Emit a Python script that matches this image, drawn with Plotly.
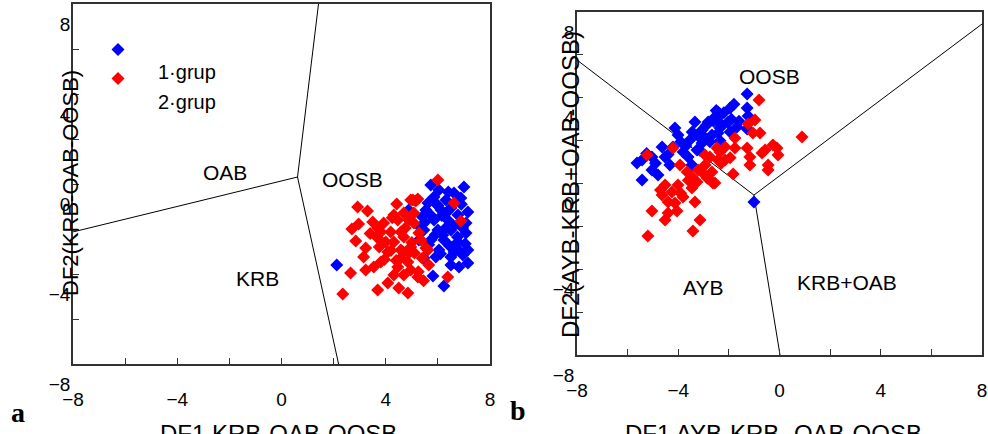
import plotly.graph_objects as go

# ---------------- data ----------------
# Panel a: DF1 vs DF2 (KRB-OAB-OOSB)
a_g1_x = [5.73, 6.04, 7.0, 6.62, 5.85, 6.31, 6.88, 4.88, 5.54, 6.12, 6.5, 7.15, 5.85, 6.38, 7.08,
          5.46, 6.0, 6.5, 7.08, 5.73, 6.23, 6.77, 6.04, 6.62, 7.15, 5.46, 5.92, 6.5, 6.96, 7.15,
          6.5, 6.81, 5.81, 6.23, 5.35, 5.62, 6.77, 6.19, 5.27, 2.12, 5.95, 6.4, 6.9, 5.7, 6.15,
          6.6, 5.5, 6.3, 6.75, 5.9, 6.45, 7.05, 5.65, 6.1, 6.55, 6.85, 5.4, 6.0, 6.35, 6.95]
a_g1_y = [-0.04, -0.27, -0.13, -0.4, -0.58, -0.71, -0.62, -1.16, -1.16, -1.16, -1.07, -1.24, -1.6, -1.6, -1.73,
          -2.04, -2.04, -2.04, -2.18, -2.49, -2.49, -2.58, -2.93, -3.02, -2.93, -3.29, -3.24, -3.24, -3.16, -3.51,
          -3.6, -3.69, -4.09, -4.53, -1.96, -0.84, -1.38, -2.27, -2.49, -3.6, -0.9, -0.35, -0.9, -1.35, -1.4,
          -1.85, -1.7, -1.95, -2.35, -2.25, -2.75, -2.65, -2.7, -3.1, -2.8, -3.0, -1.45, -0.95, -1.25, -1.95]
a_g2_x = [2.92, 4.42, 6.0, 2.96, 2.85, 3.5, 3.92, 4.46, 4.96, 5.23, 5.08, 4.88, 3.69, 4.31, 4.69,
          4.96, 5.35, 3.23, 3.15, 3.81, 4.58, 4.85, 2.65, 3.23, 4.31, 4.69, 5.23, 4.08, 3.69, 4.5,
          4.85, 2.35, 6.38, 5.65, 5.54, 6.62, 6.88, 5.08, 5.27, 4.58, 4.19, 3.81, 4.0, 4.58, 4.88,
          5.1, 4.46, 4.96, 5.15, 3.54, 4.31, 4.69, 3.69, 4.08, 5.62, 5.04, 4.2, 3.4, 4.75, 5.4,
          3.95, 4.4, 5.0, 3.3, 4.65, 5.25, 3.75, 4.25, 2.7, 5.45]
a_g2_y = [-1.02, -0.89, 0.18, -1.78, -2.53, -1.69, -1.73, -1.6, -0.71, -0.67, -1.29, -1.6, -2.4, -2.58, -2.36,
          -2.8, -2.49, -2.84, -3.24, -3.47, -3.29, -3.47, -3.96, -3.82, -4.04, -4.04, -4.13, -4.4, -4.71, -4.62,
          -4.84, -4.89, -4.13, -3.6, -2.84, -0.84, -1.64, -1.73, -2.18, -2.13, -2.13, -2.13, -2.58, -2.93, -3.07,
          -3.07, -3.69, -3.82, -0.76, -3.69, -1.38, -1.29, -1.96, -3.02, -2.93, -0.71, -2.95, -2.2, -1.95, -3.3,
          -3.35, -3.4, -2.6, -1.2, -3.0, -3.9, -2.8, -1.5, -2.0, -4.3]

# Panel b: DF1 vs DF2 (AYB-KRB+OAB-OOSB)
b_g1_x = [-5.63, -5.43, -5.43, -5.04, -5.04, -4.8, -4.64, -4.52, -4.33, -4.21, -4.01, -3.81, -3.61, -3.46, -3.54,
          -3.34, -3.06, -3.06, -2.82, -2.67, -2.55, -2.35, -2.43, -4.13, -3.26, -1.28, -1.95, -1.28, -1.24, -2.43,
          -2.27, -1.68, -1.28, -1.95, -2.43, -1.01, -3.2, -2.9, -2.6, -2.2, -1.9, -2.75, -3.45, -3.9, -2.05,
          -1.6, -3.7, -4.4, -2.5, -3.0, -1.8, -2.35, -4.9, -5.25, -3.15]
b_g1_y = [0.96, 1.1, 0.16, 1.24, 0.63, 0.4, 1.7, 1.24, 0.86, 1.7, 2.26, 1.47, 1.24, 0.86, 2.03,
          2.87, 2.5, 1.89, 2.87, 2.26, 3.1, 2.59, 3.34, 2.59, 1.56, 4.18, 3.52, 3.52, 3.15, 3.1,
          2.73, 2.64, 2.54, 2.4, 2.36, -0.86, 2.2, 2.7, 2.9, 3.3, 3.0, 1.95, 2.4, 1.95, 2.85,
          2.9, 1.75, 1.35, 3.4, 2.2, 3.7, 2.0, 0.95, 1.4, 1.55]
b_g2_x = [-5.23, -4.21, -3.93, -3.65, -3.46, -3.22, -2.94, -2.75, -2.47, -2.94, -2.67, -4.52, -4.64, -4.25, -4.01,
          -3.81, -3.46, -3.26, -2.63, -4.4, -4.13, -3.34, -5.04, -4.4, -4.05, -4.52, -3.14, -3.42, -5.2, -0.81,
          -0.97, -1.24, -0.77, -1.05, 0.89, -1.76, -2.15, -1.76, -1.28, -0.57, -0.1, -0.26, -0.06, -0.69, -1.17,
          -1.17, -0.45, -0.45, -1.83, -2.35, -2.43, -2.15, -2.55, -3.6, -3.0, -2.3, -4.7, -3.9, -2.85, -1.95]
b_g2_y = [1.33, 1.66, 0.86, 0.54, 0.3, 0.63, 0.86, 1.24, 1.66, 1.33, 0.54, -0.07, -0.54, -0.4, -0.07,
          -0.63, -0.21, 0.07, 0.02, -0.86, -0.91, -0.86, -1.28, -1.38, -1.28, -1.7, -1.7, -2.21, -2.45, 3.9,
          2.96, 2.78, 2.36, 2.36, 2.17, 2.12, 1.7, 1.66, 1.66, 1.56, 1.66, 1.8, 1.33, 1.42, 1.24,
          0.86, 0.86, 0.63, 0.44, 1.47, 1.1, 1.1, 0.02, 0.15, 0.45, 0.95, -0.3, -0.45, 0.25, 1.2]

# boundary lines (from junction outward)
a_lines = [([-8, 0.615], [-2.13, 0.31]), ([0.615, 1.42], [0.31, 8]), ([0.615, 2.19], [0.31, -8])]
b_lines = [([-8, -1.01], [5.76, -0.54]), ([-1.01, 8], [-0.54, 7.44]), ([-1.01, 0.02], [-0.54, -8])]

a_regions = [("OAB", -2.15, 0.49), ("OOSB", 2.73, 0.18), ("KRB", -0.92, -4.18)]
b_regions = [("OOSB", -0.38, 4.97), ("AYB", -3.02, -4.83), ("KRB+OAB", 2.67, -4.64)]

group_names = ["1·grup", "2·grup"]
group_colors = ["#0000FF", "#FF0000"]
tick_vals = [-8, -4, 0, 4, 8]

FONT = "Liberation Sans, Arial, sans-serif"

fig = go.Figure()

def add_panel(xa, ya, g1x, g1y, g2x, g2y, lines, regions, show):
    for lx, ly in lines:
        fig.add_trace(go.Scatter(x=lx, y=ly, mode="lines", line=dict(color="black", width=1),
                                 showlegend=False, hoverinfo="skip", xaxis=xa, yaxis=ya))
    for i, (gx, gy) in enumerate([(g1x, g1y), (g2x, g2y)]):
        fig.add_trace(go.Scatter(x=gx, y=gy, mode="markers", name="&nbsp;",
                                 marker=dict(symbol="diamond", size=10, color=group_colors[i], line=dict(width=0)),
                                 legendgroup=str(i), showlegend=show, xaxis=xa, yaxis=ya))
    for txt, x, y in regions:
        fig.add_annotation(x=x, y=y, text=txt, showarrow=False, xref=xa, yref=ya,
                           font=dict(size=21, color="black", family=FONT))

add_panel("x", "y", a_g1_x, a_g1_y, a_g2_x, a_g2_y, a_lines, a_regions, True)
add_panel("x2", "y2", b_g1_x, b_g1_y, b_g2_x, b_g2_y, b_lines, b_regions, False)

axis_common = dict(range=[-8, 8], tickvals=tick_vals, ticks="inside", ticklen=6, tickcolor="#333",
                   showline=True, linecolor="#333", linewidth=1.5, mirror=True, showgrid=False,
                   zeroline=False, automargin=False, tickfont=dict(size=19, color="black", family=FONT),
                   minor=dict(tickvals=[-6, -2, 2, 6], ticks="inside", ticklen=6, tickcolor="#333"))

fig.update_layout(
    width=988, height=434, margin=dict(l=0, r=0, t=0, b=0, autoexpand=False),
    plot_bgcolor="white", paper_bgcolor="white",
    xaxis=dict(domain=[73/988, 490/988], anchor="y", ticklabelstandoff=17, **axis_common),
    yaxis=dict(domain=[1-364/434, 1-4/434], anchor="x", tickangle=0, ticklabelshift=20,
               ticklabelstandoff=-3, **axis_common),
    xaxis2=dict(domain=[577/988, 982/988], anchor="y2", ticklabelstandoff=17, **axis_common),
    yaxis2=dict(domain=[1-355/434, 1-12/434], anchor="x2", tickangle=0, ticklabelshift=20,
                ticklabelstandoff=-3, **axis_common),
    showlegend=True,
    legend=dict(x=98/988, y=1-30/434, xanchor="left", yanchor="top", bgcolor="rgba(0,0,0,0)",
                font=dict(size=20, family=FONT), itemwidth=30, tracegroupgap=0),
)

# legend text labels (offset below markers, as in the original)
for nm, yy in zip(group_names, [72, 102]):
    fig.add_annotation(x=156/988, y=1-yy/434, xref="paper", yref="paper", text=nm, showarrow=False,
                       xanchor="left", yanchor="middle", font=dict(size=20, color="black", family=FONT))

# axis titles
fig.add_annotation(x=70/988, y=1-183/434, xref="paper", yref="paper", text="DF2(KRB-OAB-OOSB)",
                   textangle=-90, showarrow=False, xanchor="center", yanchor="middle",
                   font=dict(size=22, color="black", family=FONT))
fig.add_annotation(x=570/988, y=1-185/434, xref="paper", yref="paper", text="DF2(AYB-KRB+OAB-OOSB)",
                   textangle=-90, showarrow=False, xanchor="center", yanchor="middle",
                   font=dict(size=24, color="black", family=FONT))
fig.add_annotation(x=278/988, y=1-418/434, xref="paper", yref="paper", text="DF1 KRB-OAB-OOSB",
                   xanchor="center", yanchor="top", showarrow=False, font=dict(size=24, color="black", family=FONT))
fig.add_annotation(x=773/988, y=1-418/434, xref="paper", yref="paper", text="DF1 AYB-KRB- OAB-OOSB",
                   xanchor="center", yanchor="top", showarrow=False, font=dict(size=24, color="black", family=FONT))

# panel letters
fig.add_annotation(x=18/988, y=1-412/434, xref="paper", yref="paper", text="<b>a</b>", showarrow=False,
                   xanchor="center", yanchor="middle",
                   font=dict(size=28, color="black", family="Liberation Serif, Times New Roman, serif"))
fig.add_annotation(x=518/988, y=1-410/434, xref="paper", yref="paper", text="<b>b</b>", showarrow=False,
                   xanchor="center", yanchor="middle",
                   font=dict(size=28, color="black", family="Liberation Serif, Times New Roman, serif"))

fig.write_html("out.html")
